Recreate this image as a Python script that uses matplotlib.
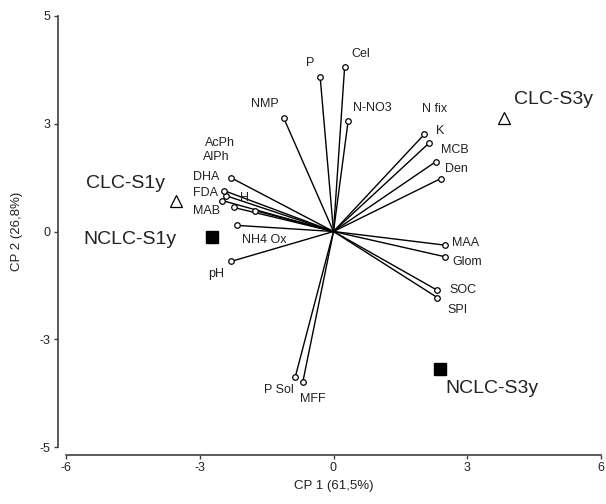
import matplotlib
matplotlib.use("Agg")
import matplotlib.pyplot as plt

plt.rcParams['font.family'] = ['Liberation Sans', 'DejaVu Sans']

# variable loadings (CP1, CP2)
var_names = ['P', 'Cel', 'NMP', 'N-NO3', 'N fix', 'K', 'MCB', 'Den',
             'AcPh', 'AlPh', 'DHA', 'FDA', 'H', 'MAB', 'NH4 Ox', 'pH',
             'MAA', 'Glom', 'SOC', 'SPI', 'P Sol', 'MFF']
var_x = [-0.30, 0.25, -1.12, 0.33, 2.04, 2.15, 2.29, 2.40,
         -2.42, -2.49, -2.29, -2.46, -1.75, -2.24, -2.16, -2.29,
         2.50, 2.49, 2.32, 2.33, -0.86, -0.69]
var_y = [4.31, 4.59, 3.17, 3.09, 2.71, 2.47, 1.94, 1.47,
         1.00, 0.86, 1.49, 1.14, 0.58, 0.67, 0.17, -0.83,
         -0.38, -0.70, -1.63, -1.84, -4.06, -4.20]

# label offsets in pixels
var_off = [(-10, 14), (16, 13), (-19, 14), (24, 13), (10, 25), (11, 12), (19, 12), (16, 10),
           (-6, 53), (-6, 44), (-25, 1), (-18, -2), (-11, 13), (-27, -4), (27, -15), (-15, -13),
           (21, 2), (23, -5), (26, 0), (20, -12), (-16, -13), (10, -17)]

# treatments (scores)
grp_names = ['CLC-S1y', 'NCLC-S1y', 'CLC-S3y', 'NCLC-S3y']
grp_x = [-3.54, -2.72, 3.83, 2.39]
grp_y = [0.84, -0.15, 3.17, -3.83]
grp_marker = ['^', 's', '^', 's']
grp_off = [(-50, 18), (-82, -3), (49, 18), (52, -19)]

fig = plt.figure(figsize=(6.06, 5.04), dpi=100)
ax = fig.add_axes([66/606, 57/504, 535/606, 431/504])

for x, y in zip(var_x, var_y):
    ax.plot([0, x], [0, y], color='black', lw=1.0, zorder=2)
ax.plot(var_x, var_y, 'o', ms=4, mfc='white', mec='black', mew=0.9, zorder=3)
for name, x, y, off in zip(var_names, var_x, var_y, var_off):
    ax.annotate(name, (x, y), xytext=off, textcoords='offset pixels',
                ha='center', va='center', fontsize=9, color='#222222')

for name, x, y, m, off in zip(grp_names, grp_x, grp_y, grp_marker, grp_off):
    if m == '^':
        ax.plot(x, y, '^', ms=9, mfc='white', mec='black', mew=0.9, zorder=4)
    else:
        ax.plot(x, y, 's', ms=8, mfc='black', mec='black', zorder=4)
    ax.annotate(name, (x, y), xytext=off, textcoords='offset pixels',
                ha='center', va='center', fontsize=14, color='#222222')

ax.set_xlim(-6, 6)
ax.set_ylim(-6, 6)
ax.set_xticks([-6, -3, 0, 3, 6])
ax.set_xticklabels(['-6', '-3', '0', '3', '6'])
ax.set_yticks([-6, -3, 0, 3, 6])
ax.set_yticklabels(['-5', '-3', '0', '3', '5'])

for s in ['top', 'right']:
    ax.spines[s].set_visible(False)
for s in ['left', 'bottom']:
    ax.spines[s].set_position(('outward', 6))
    ax.spines[s].set_color('#404040')
    ax.spines[s].set_linewidth(1.2)
ax.tick_params(direction='out', length=3, width=1, color='#404040',
               labelsize=9, labelcolor='#222222', pad=2)

ax.set_xlabel('CP 1 (61,5%)', fontsize=9.5, color='#222222', labelpad=4)
ax.set_ylabel('CP 2 (26,8%)', fontsize=9.5, color='#222222', labelpad=12)

fig.savefig('out.png', dpi=100)
